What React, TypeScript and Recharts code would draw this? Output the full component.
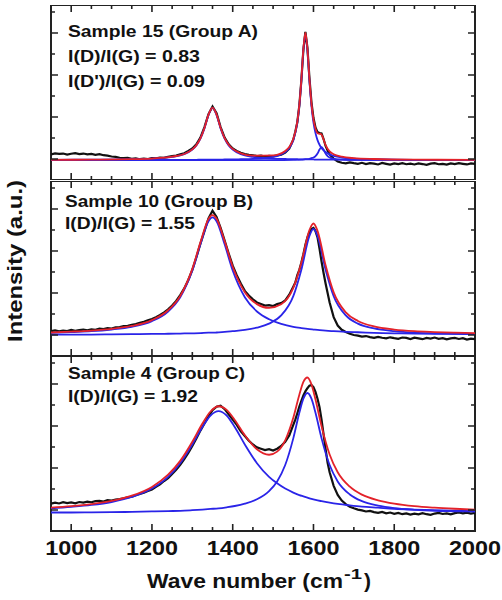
import { LineChart, Line, XAxis, YAxis, ReferenceArea, ReferenceLine } from 'recharts'

// shared wavenumber grid for the measured (black) spectra
const RAW_X = [
  950, 960, 970, 980, 990, 1000, 1010, 1020, 1030, 1040,
  1050, 1060, 1070, 1080, 1090, 1100, 1110, 1120, 1130, 1140,
  1150, 1160, 1170, 1180, 1190, 1200, 1210, 1220, 1230, 1240,
  1250, 1260, 1270, 1280, 1290, 1300, 1310, 1320, 1330, 1340,
  1350, 1360, 1370, 1380, 1390, 1400, 1410, 1420, 1430, 1440,
  1450, 1460, 1470, 1480, 1490, 1500, 1510, 1520, 1530, 1540,
  1550, 1555, 1560, 1565, 1570, 1575, 1580, 1585, 1590, 1595,
  1600, 1605, 1610, 1615, 1620, 1625, 1630, 1635, 1640, 1650,
  1660, 1670, 1680, 1690, 1700, 1710, 1720, 1730, 1740, 1750,
  1760, 1770, 1780, 1790, 1800, 1810, 1820, 1830, 1840, 1850,
  1860, 1870, 1880, 1890, 1900, 1910, 1920, 1930, 1940, 1950,
  1960, 1970, 1980, 1990, 2000,
]

const RAW_15 = [
  1.22, 1.27, 1.24, 1.26, 1.21, 1.25, 1.28, 1.23, 1.26, 1.22,
  1.24, 1.20, 1.23, 1.18, 1.16, 1.12, 1.10, 1.06, 1.04, 1.05,
  1.01, 1.03, 0.99, 1.02, 1.00, 1.04, 1.03, 1.07, 1.06, 1.10,
  1.14, 1.16, 1.22, 1.27, 1.38, 1.50, 1.70, 2.02, 2.52, 3.14,
  3.50, 3.18, 2.52, 2.02, 1.70, 1.50, 1.38, 1.30, 1.24, 1.20,
  1.18, 1.14, 1.16, 1.12, 1.15, 1.13, 1.17, 1.21, 1.30, 1.50,
  1.92, 2.30, 2.75, 3.55, 4.75, 6.20, 7.05, 6.30, 4.85, 3.70,
  2.95, 2.50, 2.28, 2.24, 2.22, 1.95, 1.62, 1.40, 1.22, 1.02,
  0.88, 0.82, 0.79, 0.84, 0.80, 0.77, 0.82, 0.76, 0.80, 0.78,
  0.74, 0.81, 0.77, 0.73, 0.79, 0.76, 0.80, 0.75, 0.78, 0.74,
  0.79, 0.76, 0.72, 0.78, 0.80, 0.75, 0.77, 0.73, 0.79, 0.76,
  0.80, 0.77, 0.74, 0.79, 0.77,
]

const RAW_10 = [
  1.18, 1.22, 1.17, 1.21, 1.19, 1.24, 1.20, 1.23, 1.26, 1.22,
  1.27, 1.25, 1.30, 1.28, 1.33, 1.31, 1.36, 1.38, 1.42, 1.44,
  1.49, 1.52, 1.58, 1.63, 1.70, 1.76, 1.85, 1.96, 2.08, 2.22,
  2.40, 2.62, 2.90, 3.22, 3.62, 4.10, 4.70, 5.35, 5.95, 6.55,
  6.92, 6.62, 6.10, 5.50, 4.88, 4.30, 3.85, 3.45, 3.10, 2.88,
  2.70, 2.55, 2.48, 2.40, 2.42, 2.38, 2.47, 2.52, 2.65, 2.92,
  3.30, 3.50, 3.85, 4.10, 4.45, 4.85, 5.30, 5.65, 5.90, 6.05,
  6.10, 5.95, 5.65, 5.10, 4.50, 3.95, 3.45, 3.00, 2.55, 1.85,
  1.45, 1.25, 1.14, 1.06, 1.00, 0.97, 0.92, 0.95, 0.90, 0.86,
  0.91, 0.87, 0.84, 0.89, 0.85, 0.82, 0.88, 0.86, 0.81, 0.87,
  0.84, 0.80, 0.86, 0.83, 0.88, 0.82, 0.85, 0.79, 0.84, 0.86,
  0.81, 0.85, 0.78, 0.83, 0.80,
]

const RAW_4 = [
  1.30, 1.35, 1.31, 1.37, 1.33, 1.36, 1.32, 1.38, 1.35, 1.40,
  1.37, 1.42, 1.44, 1.40, 1.47, 1.45, 1.50, 1.52, 1.56, 1.60,
  1.63, 1.70, 1.76, 1.82, 1.90, 1.98, 2.10, 2.22, 2.38, 2.52,
  2.72, 2.92, 3.15, 3.42, 3.72, 4.05, 4.40, 4.78, 5.12, 5.45,
  5.75, 5.92, 5.97, 5.80, 5.55, 5.30, 5.05, 4.75, 4.52, 4.30,
  4.12, 3.98, 3.92, 3.85, 3.90, 3.83, 3.92, 4.05, 4.25, 4.55,
  5.05, 5.30, 5.60, 5.92, 6.20, 6.45, 6.65, 6.80, 6.92, 6.95,
  6.85, 6.62, 6.30, 5.90, 5.30, 4.60, 3.90, 3.25, 2.80, 2.15,
  1.72, 1.45, 1.28, 1.15, 1.08, 1.02, 0.98, 0.93, 0.96, 0.90,
  0.86, 0.91, 0.84, 0.88, 0.82, 0.86, 0.80, 0.84, 0.78, 0.83,
  0.79, 0.85, 0.80, 0.77, 0.83, 0.86, 0.81, 0.84, 0.79, 0.85,
  0.88, 0.84, 0.87, 0.83, 0.86,
]

// Sample 15 fitted curves
const FIT15_X = [
  950, 1050, 1150, 1200, 1250, 1280, 1300, 1310, 1320, 1330,
  1340, 1350, 1360, 1370, 1380, 1390, 1400, 1420, 1450, 1500,
  1530, 1550, 1560, 1565, 1570, 1575, 1580, 1585, 1590, 1595,
  1600, 1605, 1610, 1615, 1620, 1625, 1630, 1640, 1650, 1670,
  1700, 1750, 1850, 2000,
]
const FIT15_D = [
  0.96, 0.97, 0.99, 1.02, 1.10, 1.23, 1.45, 1.65, 1.97, 2.46,
  3.09, 3.43, 3.09, 2.46, 1.97, 1.65, 1.45, 1.23, 1.10, 1.02,
  1.00, 0.99, 0.99, 0.98, 0.98, 0.98, 0.98, 0.98, 0.98, 0.98,
  0.98, 0.97, 0.97, 0.97, 0.97, 0.97, 0.97, 0.97, 0.97, 0.97,
  0.96, 0.96, 0.96, 0.95,
]
const FIT15_G = [
  0.95, 0.95, 0.96, 0.96, 0.96, 0.96, 0.96, 0.96, 0.97, 0.97,
  0.97, 0.97, 0.97, 0.97, 0.98, 0.98, 0.98, 0.99, 1.01, 1.10,
  1.33, 1.90, 2.73, 3.53, 4.72, 6.18, 6.95, 6.18, 4.72, 3.53,
  2.73, 2.23, 1.90, 1.68, 1.52, 1.41, 1.33, 1.22, 1.15, 1.07,
  1.02, 0.99, 0.96, 0.96,
]
const FIT15_SUM = [
  0.96, 0.97, 0.99, 1.02, 1.11, 1.24, 1.46, 1.66, 1.98, 2.48,
  3.11, 3.45, 3.11, 2.49, 1.99, 1.68, 1.48, 1.27, 1.16, 1.17,
  1.38, 1.95, 2.78, 3.58, 4.78, 6.24, 7.02, 6.26, 4.81, 3.64,
  2.88, 2.45, 2.23, 2.20, 2.16, 1.93, 1.66, 1.36, 1.23, 1.11,
  1.04, 1.00, 0.97, 0.96,
]
const FIT15_DP_X = [
  950, 1500, 1550, 1570, 1580, 1590, 1595, 1600, 1605, 1610,
  1615, 1620, 1625, 1630, 1635, 1640, 1650, 1670, 1700, 2000,
]
const FIT15_DP = [
  0.95, 0.95, 0.96, 0.97, 0.99, 1.01, 1.04, 1.07, 1.14, 1.26,
  1.45, 1.57, 1.45, 1.26, 1.14, 1.07, 1.01, 0.97, 0.96, 0.95,
]

// Sample 10 fitted curves
const FIT10_X = [
  950, 1000, 1050, 1100, 1150, 1200, 1240, 1270, 1300, 1320,
  1340, 1350, 1360, 1380, 1400, 1430, 1460, 1490, 1520, 1550,
  1570, 1590, 1600, 1610, 1630, 1650, 1680, 1710, 1750, 1800,
  1850, 1900, 1950, 2000,
]
const FIT10_D = [
  1.10, 1.14, 1.18, 1.26, 1.39, 1.66, 2.12, 2.80, 4.07, 5.32,
  6.42, 6.60, 6.42, 5.32, 4.07, 2.80, 2.12, 1.75, 1.53, 1.39,
  1.33, 1.28, 1.26, 1.24, 1.21, 1.18, 1.15, 1.13, 1.10, 1.08,
  1.07, 1.06, 1.05, 1.04,
]
const FIT10_G = [
  1.02, 1.02, 1.02, 1.03, 1.04, 1.05, 1.06, 1.07, 1.08, 1.09,
  1.11, 1.11, 1.12, 1.15, 1.18, 1.24, 1.35, 1.54, 1.93, 2.85,
  4.11, 5.72, 6.05, 5.72, 4.11, 2.85, 1.93, 1.54, 1.31, 1.18,
  1.11, 1.08, 1.06, 1.05,
]
const FIT10_SUM = [
  1.12, 1.16, 1.21, 1.29, 1.43, 1.71, 2.18, 2.86, 4.15, 5.41,
  6.53, 6.71, 6.54, 5.47, 4.25, 3.04, 2.47, 2.29, 2.46, 3.24,
  4.44, 6.00, 6.31, 5.96, 4.32, 3.03, 2.08, 1.67, 1.41, 1.26,
  1.18, 1.14, 1.11, 1.09,
]

// Sample 4 fitted curves
const FIT4_X = [
  950, 1000, 1050, 1100, 1150, 1200, 1240, 1270, 1300, 1325,
  1345, 1365, 1385, 1405, 1430, 1460, 1490, 1510, 1530, 1550,
  1565, 1575, 1585, 1595, 1605, 1620, 1640, 1660, 1690, 1720,
  1760, 1800, 1850, 1900, 1950, 2000,
]
const FIT4_D = [
  1.08, 1.15, 1.24, 1.38, 1.62, 2.02, 2.58, 3.23, 4.12, 4.95,
  5.50, 5.71, 5.50, 4.95, 4.12, 3.23, 2.58, 2.27, 2.02, 1.83,
  1.71, 1.65, 1.59, 1.53, 1.48, 1.42, 1.35, 1.29, 1.22, 1.16,
  1.11, 1.06, 1.02, 0.99, 0.97, 0.95,
]
const FIT4_G = [
  0.88, 0.88, 0.89, 0.90, 0.91, 0.93, 0.95, 0.96, 0.99, 1.02,
  1.05, 1.08, 1.13, 1.19, 1.30, 1.51, 1.90, 2.36, 3.14, 4.41,
  5.63, 6.30, 6.57, 6.30, 5.63, 4.41, 3.14, 2.36, 1.74, 1.42,
  1.21, 1.09, 1.01, 0.96, 0.94, 0.92,
]
const FIT4_SUM = [
  1.11, 1.18, 1.28, 1.43, 1.68, 2.10, 2.68, 3.34, 4.25, 5.12,
  5.69, 5.94, 5.77, 5.29, 4.56, 3.89, 3.63, 3.78, 4.32, 5.39,
  6.49, 7.10, 7.31, 6.98, 6.26, 4.99, 3.64, 2.80, 2.11, 1.73,
  1.46, 1.30, 1.18, 1.11, 1.06, 1.02,
]

const X_TICKS = [
  1000, 1050, 1100, 1150, 1200, 1250, 1300, 1350, 1400, 1450, 1500,
  1550, 1600, 1650, 1700, 1750, 1800, 1850, 1900, 1950,
]
const X_LABELS = [1000, 1200, 1400, 1600, 1800, 2000]
const Y_TICKS = [1, 2, 3, 4, 5, 6, 7, 8]
const X_MIN = 950
const X_MAX = 2000
const Y_MAX = 8.333

const PLOT_W = 424
const PLOT_H = 175
const X_PER_PX = (X_MAX - X_MIN) / PLOT_W
const Y_PER_PX = Y_MAX / PLOT_H
const FONT = '"Liberation Sans", Arial, sans-serif'
const BLACK = '#111111'
const RED = '#e3222a'
const BLUE = '#2a24e8'
const FRAME = '#222222'

const rows = (xs: number[], ys: number[]) => xs.map((x, i) => ({ x, y: ys[i] }))

// inward x tick stubs (bottom and top of a panel), broken apart by null gaps
const X_TICK_PATH: { x: number; y: number | null }[] = []
X_TICKS.forEach((v) => {
  const len = (v % 200 === 0 ? 7 : 4) * Y_PER_PX
  X_TICK_PATH.push({ x: v, y: 0 }, { x: v, y: len }, { x: v, y: null })
  X_TICK_PATH.push({ x: v, y: Y_MAX - len }, { x: v, y: Y_MAX }, { x: v, y: null })
})

function XLabel(props: any) {
  const { x, y, payload } = props
  return (
    <text
      x={x}
      y={y + 24}
      textAnchor="middle"
      fontFamily={FONT}
      fontWeight="bold"
      fontSize={21}
      fill="#111"
      textLength={52}
      lengthAdjust="spacingAndGlyphs"
    >
      {payload.value}
    </text>
  )
}

interface Curve {
  data: { x: number; y: number }[]
  color: string
  width: number
  smooth: boolean
}

function Panel({ top, curves, showLabels }: { top: number; curves: Curve[]; showLabels: boolean }) {
  const axisH = showLabels ? 45 : 0
  return (
    <div style={{ position: 'absolute', left: 0, top }}>
      <LineChart width={502} height={PLOT_H + axisH} margin={{ top: 0, right: 27, bottom: 0, left: 51 }}>
        <XAxis
          type="number"
          dataKey="x"
          domain={[X_MIN, X_MAX]}
          allowDataOverflow
          ticks={X_LABELS}
          interval={0}
          hide={!showLabels}
          height={axisH}
          axisLine={false}
          tickLine={false}
          tickSize={0}
          tickMargin={0}
          tick={(p: any) => <XLabel {...p} />}
        />
        <YAxis type="number" domain={[0, Y_MAX]} allowDataOverflow hide />
        {curves.map((c, i) => (
          <Line
            key={i}
            data={c.data}
            dataKey="y"
            type={c.smooth ? 'monotone' : 'linear'}
            stroke={c.color}
            strokeWidth={c.width}
            dot={false}
            activeDot={false}
            isAnimationActive={false}
          />
        ))}
        <Line
          data={X_TICK_PATH}
          dataKey="y"
          type="linear"
          stroke={FRAME}
          strokeWidth={1.6}
          dot={false}
          activeDot={false}
          connectNulls={false}
          isAnimationActive={false}
        />
        <ReferenceArea
          x1={X_MIN}
          x2={X_MAX}
          y1={0}
          y2={Y_MAX}
          fill="none"
          fillOpacity={0}
          stroke={FRAME}
          strokeWidth={2}
          ifOverflow="visible"
        />
        {Y_TICKS.map((v) => {
          const len = (v % 2 === 1 ? 7 : 4) * X_PER_PX
          return [
            <ReferenceLine key={'yl' + v} segment={[{ x: X_MIN, y: v }, { x: X_MIN + len, y: v }]} stroke={FRAME} strokeWidth={1.5} ifOverflow="visible" />,
            <ReferenceLine key={'yr' + v} segment={[{ x: X_MAX - len, y: v }, { x: X_MAX, y: v }]} stroke={FRAME} strokeWidth={1.5} ifOverflow="visible" />,
          ]
        })}
      </LineChart>
    </div>
  )
}

const PANELS = [
  {
    top: 5,
    curves: [
      { data: rows(RAW_X, RAW_15), color: BLACK, width: 2.2, smooth: false },
      { data: rows(FIT15_X, FIT15_D), color: BLUE, width: 1.8, smooth: true },
      { data: rows(FIT15_X, FIT15_G), color: BLUE, width: 1.8, smooth: true },
      { data: rows(FIT15_DP_X, FIT15_DP), color: BLUE, width: 1.8, smooth: true },
      { data: rows(FIT15_X, FIT15_SUM), color: RED, width: 1.8, smooth: true },
    ],
  },
  {
    top: 181,
    curves: [
      { data: rows(RAW_X, RAW_10), color: BLACK, width: 2.2, smooth: false },
      { data: rows(FIT10_X, FIT10_D), color: BLUE, width: 1.8, smooth: true },
      { data: rows(FIT10_X, FIT10_G), color: BLUE, width: 1.8, smooth: true },
      { data: rows(FIT10_X, FIT10_SUM), color: RED, width: 1.8, smooth: true },
    ],
  },
  {
    top: 356,
    curves: [
      { data: rows(RAW_X, RAW_4), color: BLACK, width: 2.2, smooth: false },
      { data: rows(FIT4_X, FIT4_D), color: BLUE, width: 1.8, smooth: true },
      { data: rows(FIT4_X, FIT4_G), color: BLUE, width: 1.8, smooth: true },
      { data: rows(FIT4_X, FIT4_SUM), color: RED, width: 1.8, smooth: true },
    ],
  },
]

// annotation text: [label, x, baseline, width]
const NOTES: [string, number, number, number][] = [
  ['Sample 15 (Group A)', 68, 37, 190],
  ['I(D)/I(G) = 0.83', 68, 62, 132],
  ["I(D')/I(G) = 0.09", 68, 87, 137],
  ['Sample 10 (Group B)', 65, 207, 188],
  ['I(D)/I(G) = 1.55', 65, 229, 130],
  ['Sample 4 (Group C)', 68, 379, 177],
  ['I(D)/I(G) = 1.92', 68, 402, 130],
]

export default function App() {
  return (
    <div style={{ position: 'absolute', left: 0, top: 0, width: 502, height: 600, overflow: 'hidden', background: '#fff' }}>
      {PANELS.map((p, i) => (
        <Panel key={i} top={p.top} curves={p.curves} showLabels={i === PANELS.length - 1} />
      ))}
      <svg width={502} height={600} style={{ position: 'absolute', left: 0, top: 0, pointerEvents: 'none' }}>
        <g fontFamily={FONT} fontWeight="bold" fill="#111">
          {NOTES.map(([t, x, y, w]) => (
            <text key={t + y} x={x} y={y} fontSize={17} textLength={w} lengthAdjust="spacingAndGlyphs">
              {t}
            </text>
          ))}
          <text
            transform="rotate(-90)"
            x={-261}
            y={22}
            textAnchor="middle"
            fontSize={21}
            textLength={162}
            lengthAdjust="spacingAndGlyphs"
          >
            Intensity (a.u.)
          </text>
          <text x={147} y={588} fontSize={21} textLength={196} lengthAdjust="spacingAndGlyphs">
            Wave number (cm
          </text>
          <text x={344} y={579} fontSize={15} textLength={18} lengthAdjust="spacingAndGlyphs">
            -1
          </text>
          <text x={364} y={588} fontSize={21}>
            )
          </text>
        </g>
      </svg>
    </div>
  )
}
